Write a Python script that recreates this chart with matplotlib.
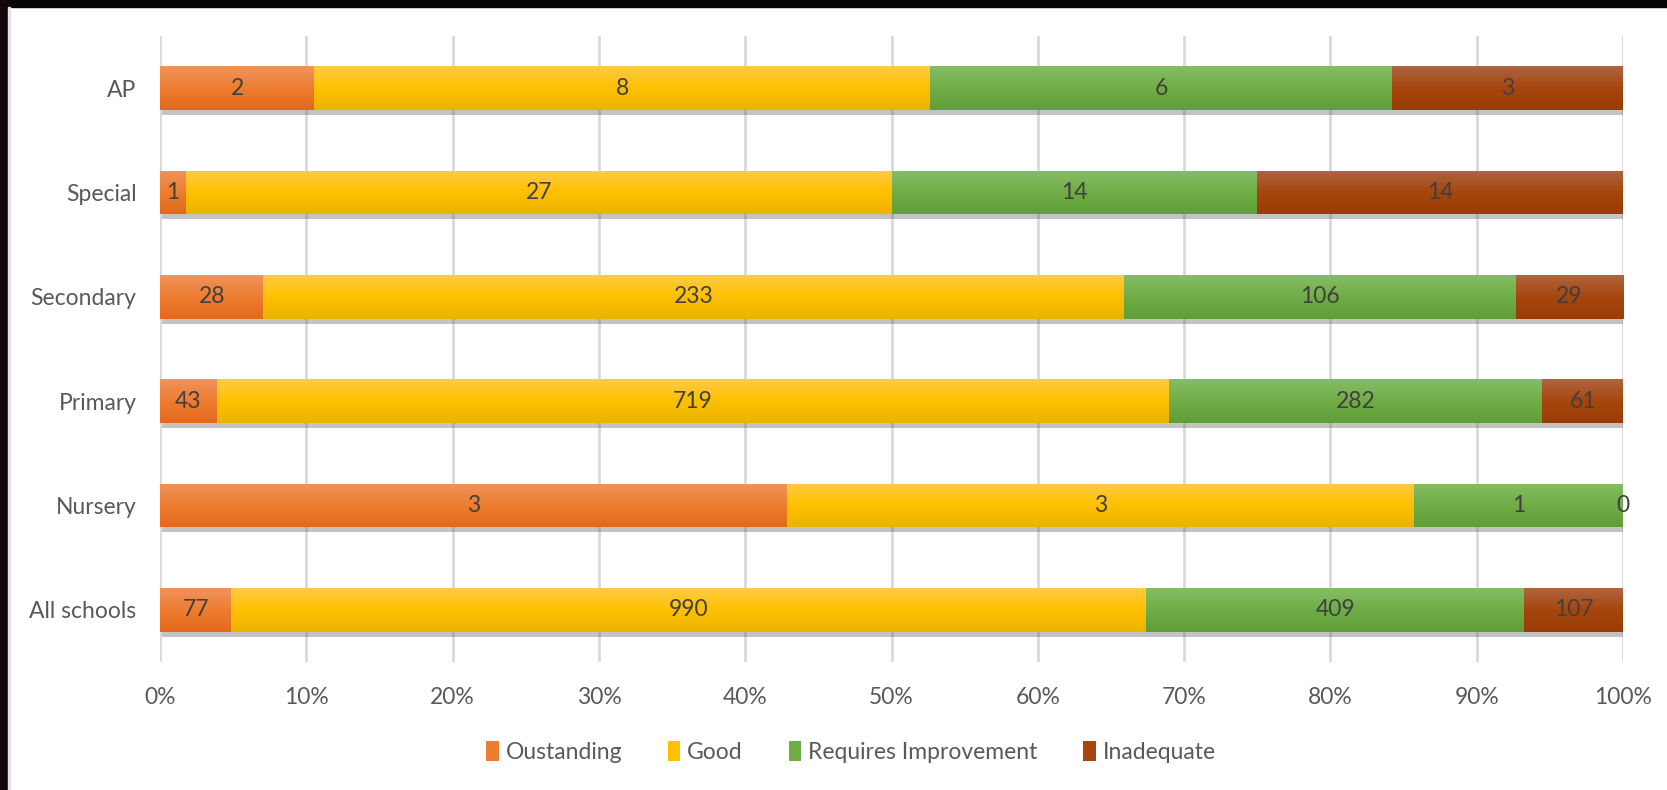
import numpy as np
import matplotlib
matplotlib.use("Agg")
import matplotlib.pyplot as plt
from matplotlib.colors import LinearSegmentedColormap
from matplotlib.patches import Patch, Rectangle
import matplotlib.patheffects as pe

# Data (bottom to top, as drawn)
categories = ["All schools", "Nursery", "Primary", "Secondary", "Special", "AP"]
outstanding = [77, 3, 43, 28, 1, 2]
good = [990, 3, 719, 233, 27, 8]
requires_improvement = [409, 1, 282, 106, 14, 6]
inadequate = [107, 0, 61, 29, 14, 3]

series_names = ["Oustanding", "Good", "Requires Improvement", "Inadequate"]
x_ticks = np.arange(0, 1.01, 0.1)
x_ticklabels = ["0%", "10%", "20%", "30%", "40%", "50%", "60%", "70%", "80%", "90%", "100%"]

# (bottom, middle, top) shades for each series
shades = [
    ("#E2691A", "#ED7D31", "#F1935B"),
    ("#EBB300", "#FFC000", "#FFCB45"),
    ("#5F9E38", "#70AD47", "#86BD64"),
    ("#9A3C03", "#A5460E", "#B0643F"),
]

plt.rcParams["font.family"] = ["Lato", "DejaVu Sans"]

counts = np.array([outstanding, good, requires_improvement, inadequate], dtype=float)
shares = counts / counts.sum(axis=0)

fig = plt.figure(figsize=(16.67, 7.90), dpi=100)
ax = fig.add_axes([160 / 1667, 1 - 662 / 790, (1623 - 160) / 1667, (662 - 36) / 790])

y = np.arange(len(categories))
left = np.zeros(len(categories))
grad = np.linspace(0, 1, 64).reshape(-1, 1)

for i, name in enumerate(series_names):
    bars = ax.barh(y, shares[i], left=left, height=0.42, color=shades[i][1],
                   label=name, zorder=3)
    cmap = LinearSegmentedColormap.from_list(name, shades[i])
    for rect in bars:
        rect.set_path_effects([pe.SimplePatchShadow(offset=(1.5, -3.5), alpha=0.35,
                                                    shadow_rgbFace="#555555"),
                               pe.Normal()])
        x0, y0 = rect.get_x(), rect.get_y()
        w, h = rect.get_width(), rect.get_height()
        if w <= 0:
            continue
        img = ax.imshow(grad, extent=[x0, x0 + w, y0, y0 + h], origin="lower",
                        cmap=cmap, aspect="auto", zorder=3.5, interpolation="bicubic")
        img.set_clip_path(rect)
    ax.bar_label(bars, labels=[str(int(v)) for v in counts[i]], label_type="center",
                 fontsize=16.5, color="#404040", zorder=5)
    left += shares[i]

ax.set_xlim(0, 1)
ax.set_ylim(-0.5, len(categories) - 0.5)
ax.set_xticks(x_ticks)
ax.set_xticklabels(x_ticklabels)
ax.set_yticks(y)
ax.set_yticklabels(categories)
ax.tick_params(axis="x", length=0, pad=18, labelsize=16.5, labelcolor="#595959")
ax.tick_params(axis="y", length=0, pad=17, labelsize=16.5, labelcolor="#595959")
for s in ax.spines.values():
    s.set_visible(False)
ax.grid(axis="x", color="#D9D9D9", linewidth=2, zorder=0)
ax.set_axisbelow(True)

handles = [Patch(facecolor=shades[i][1], label=series_names[i]) for i in range(4)]
fig.legend(handles=handles, loc="center", bbox_to_anchor=(851 / 1667, 1 - 752 / 790),
           ncol=4, frameon=False, fontsize=16.5, handlelength=0.55, handleheight=0.95,
           handletextpad=0.3, columnspacing=2.0, labelcolor="#595959")

# dark screenshot border on top and left
fig.patches.append(Rectangle((0, 1 - 7 / 790), 1, 7 / 790, transform=fig.transFigure,
                             color="#050508", zorder=10))
fig.patches.append(Rectangle((0, 0), 8 / 1667, 1, transform=fig.transFigure,
                             color="#16050c", zorder=10))
fig.patches.append(Rectangle((8 / 1667, 0), 2 / 1667, 1 - 7 / 790, transform=fig.transFigure,
                             color="#E3E3E3", zorder=10))

fig.savefig("out.png", dpi=100)
